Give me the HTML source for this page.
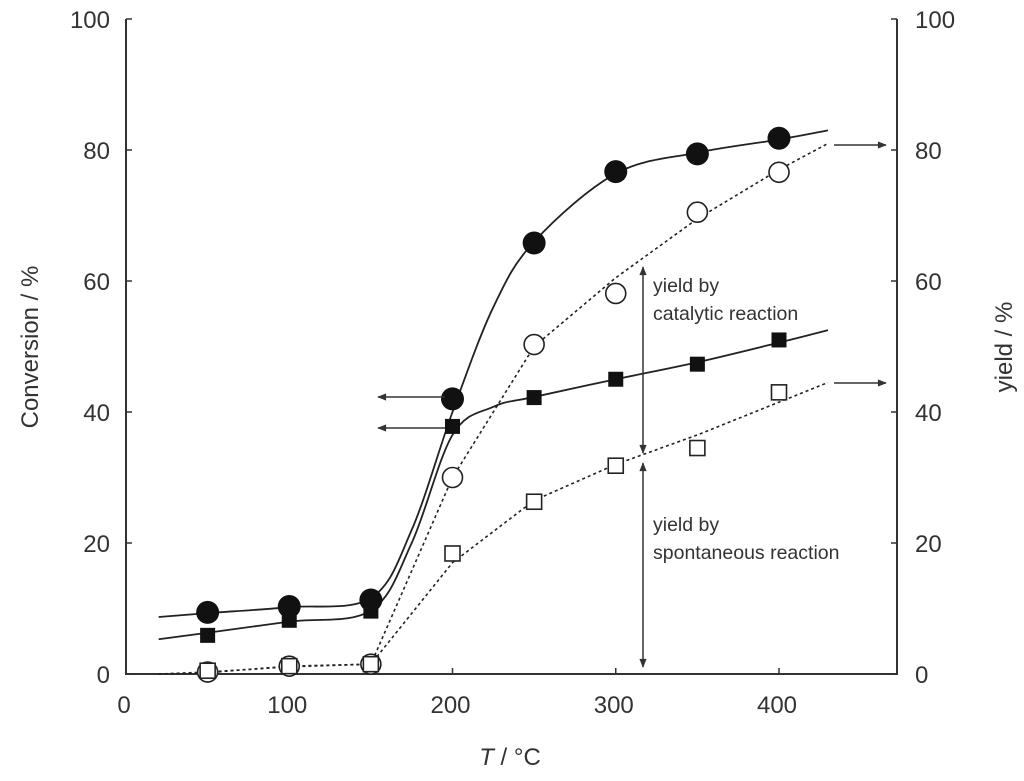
<!DOCTYPE html>
<html><head><meta charset="utf-8"><style>
body{margin:0;background:#fff;}
svg text{font-family:"Liberation Sans",sans-serif;fill:#333;}
</style></head><body>
<svg id="chart" width="1024" height="776" viewBox="0 0 1024 776" xmlns="http://www.w3.org/2000/svg">
<defs>
<marker id="ah" viewBox="0 0 10 10" refX="9" refY="5" markerWidth="12" markerHeight="9" orient="auto-start-reverse" markerUnits="userSpaceOnUse"><path d="M0,1 L10,5 L0,9 z" fill="#333"/></marker>
</defs>
<g id="frame"></g>
<g id="series"></g>
<g id="annot"></g>
</svg>
<script>
const xTicks=[0,100,200,300,400];
const yTicks=[0,20,40,60,80,100];
const temps=[50,100,150,200,250,300,350,400];
const convCircle=[9.4,10.3,11.3,42,65.8,76.7,79.4,81.8];
const yieldCircle=[0.3,1.2,1.5,30,50.3,58.1,70.5,76.6];
const convSquare=[5.9,8.2,9.6,37.8,42.2,45,47.3,51];
const yieldSquare=[0.5,1.2,1.5,18.4,26.3,31.8,34.5,43];
const fitX=[20,50,100,150,175,200,225,250,300,350,400,430];
const fitConvCircle=[8.7,9.3,10.2,11.6,22,40,56,66,76.4,79.6,81.6,83];
const fitConvSquare=[5.3,6.3,8,9.7,20,36.5,40.8,42.3,45,47.6,50.6,52.5];
const dotX=[20,50,100,150,200,250,300,350,400,430];
const dotYieldCircle=[0,0.2,1.2,1.5,30,50,60.5,69.5,77,81];
const dotYieldSquare=[0,0.3,1.1,1.5,17,26.5,32,36.5,41.5,44.5];

const X0=126,X1=897,Y0=674,Y1=19;
const sx=v=>X0+v*(777-124)/400;
const sy=v=>Y0-v*(Y0-Y1)/100;
const NS="http://www.w3.org/2000/svg";
function mk(tag,attrs,parent){const e=document.createElementNS(NS,tag);for(const k in attrs)e.setAttribute(k,attrs[k]);parent.appendChild(e);return e;}
const frame=document.getElementById('frame'),ser=document.getElementById('series'),an=document.getElementById('annot');

let ax=mk('path',{d:`M${X0},${Y1} V${Y0} H${X1} V${Y1}`,fill:'none',stroke:'#333','stroke-width':2},frame);


xTicks.forEach(t=>{
  mk('line',{x1:sx(t),x2:sx(t),y1:Y0,y2:Y0-6,stroke:'#333','stroke-width':1.5},frame);
  const tx=mk('text',{x:sx(t)-2,y:713,'font-size':24,'text-anchor':'middle'},frame);tx.textContent=t;
  
  
});
yTicks.forEach(t=>{
  mk('line',{x1:X0,x2:X0+6,y1:sy(t),y2:sy(t),stroke:'#333','stroke-width':1.5},frame);
  mk('line',{x1:X1,x2:X1-6,y1:sy(t),y2:sy(t),stroke:'#333','stroke-width':1.5},frame);
  const l=mk('text',{x:110,y:sy(t)+9,'font-size':24,'text-anchor':'end'},frame);l.textContent=t;
  
  
  const r=mk('text',{x:915,y:sy(t)+9,'font-size':24,'text-anchor':'start'},frame);r.textContent=t;
  
  
});
let yl=mk('text',{x:0,y:0,'font-size':24,'text-anchor':'middle',transform:'translate(38,347) rotate(-90)'},frame);yl.textContent='Conversion / %';


let yr=mk('text',{x:0,y:0,'font-size':24,'text-anchor':'middle',transform:'translate(1012,347) rotate(-90)'},frame);yr.textContent='yield / %';


let xl=mk('text',{x:510,y:765,'font-size':24,'text-anchor':'middle'},frame);
xl.innerHTML='<tspan font-style="italic">T</tspan> / °C';



function smooth(xs,ys){const p=xs.map((x,i)=>[sx(x),sy(ys[i])]);let d=`M${p[0][0]},${p[0][1]}`;
  for(let i=0;i<p.length-1;i++){const a=p[Math.max(0,i-1)],b=p[i],c=p[i+1],e=p[Math.min(p.length-1,i+2)];
    d+=` C${b[0]+(c[0]-a[0])/6},${b[1]+(c[1]-a[1])/6} ${c[0]-(e[0]-b[0])/6},${c[1]-(e[1]-b[1])/6} ${c[0]},${c[1]}`;}return d;}
function poly(xs,ys){return xs.map((x,i)=>(i?'L':'M')+sx(x)+','+sy(ys[i])).join(' ');}
let c1=mk('path',{d:smooth(fitX,fitConvCircle),fill:'none',stroke:'#222','stroke-width':1.8},ser);


let c2=mk('path',{d:smooth(fitX,fitConvSquare),fill:'none',stroke:'#222','stroke-width':1.8},ser);


let c3=mk('path',{d:poly(dotX,dotYieldCircle),fill:'none',stroke:'#222','stroke-width':1.6,'stroke-dasharray':'3,3'},ser);


let c4=mk('path',{d:poly(dotX,dotYieldSquare),fill:'none',stroke:'#222','stroke-width':1.6,'stroke-dasharray':'3,3'},ser);



temps.forEach((t,i)=>{
  let a=mk('circle',{cx:sx(t),cy:sy(convCircle[i]),r:11.5,fill:'#111'},ser);
  
  
  let b=mk('circle',{cx:sx(t),cy:sy(yieldCircle[i]),r:10,fill:'#fff',stroke:'#222','stroke-width':1.6},ser);
  
  
  let c=mk('rect',{x:sx(t)-7.5,y:sy(convSquare[i])-7.5,width:15,height:15,fill:'#111'},ser);
  
  
  let d=mk('rect',{x:sx(t)-7.5,y:sy(yieldSquare[i])-7.5,width:15,height:15,fill:'#fff',stroke:'#222','stroke-width':1.6},ser);
  
  
});

function arrow(x1,y1,x2,y2,both){const l=mk('line',{x1,y1,x2,y2,stroke:'#333','stroke-width':1.5,'marker-end':'url(#ah)'},an);if(both)l.setAttribute('marker-start','url(#ah)');return l;}
let a1=arrow(445,397,378,397);
let a2=arrow(445,428,378,428);
let a3=arrow(834,145,886,145);
let a4=arrow(834,383,886,383);
let a5=arrow(643,267,643,453,true);
let a6=arrow(643,463,643,667,true);
[['yield by',653,292],['catalytic reaction',653,320],['yield by',653,531],['spontaneous reaction',653,559]].forEach(s=>{
  const t=mk('text',{x:s[1],y:s[2],'font-size':19.5},an);t.textContent=s[0];
  
  
});
</script>
</body></html>
